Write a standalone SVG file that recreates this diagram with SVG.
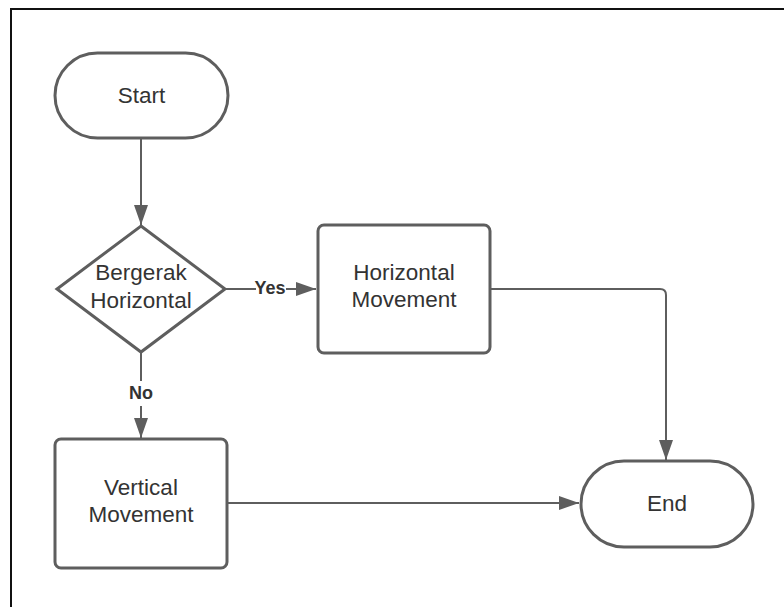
<svg xmlns="http://www.w3.org/2000/svg" width="784" height="607" viewBox="0 0 784 607">
<defs>
<marker id="ah" markerWidth="20" markerHeight="14" refX="20" refY="7" orient="auto" markerUnits="userSpaceOnUse">
<path d="M0,0 L20,7 L0,14 Z" fill="#5e5e5e"/>
</marker>
<style>
.shape{fill:#fff;stroke:#5e5e5e;stroke-width:3}
.conn{fill:none;stroke:#5e5e5e;stroke-width:2}
.t{font-family:"Liberation Sans",Arial,sans-serif;font-size:22.5px;fill:#333;text-anchor:middle;dominant-baseline:central}
.lbl{font-family:"Liberation Sans",Arial,sans-serif;font-size:18px;font-weight:bold;fill:#333;text-anchor:middle;dominant-baseline:central}
</style>
</defs>
<rect width="784" height="607" fill="#fff"/>
<rect x="11" y="9" width="800" height="620" fill="none" stroke="#111" stroke-width="2"/>
<g id="connectors">
<path class="conn" d="M141,138 L141,225" marker-end="url(#ah)"/>
<path class="conn" d="M225,289 L256,289"/>
<path class="conn" d="M286,289 L316,289" marker-end="url(#ah)"/>
<path class="conn" d="M141,352 L141,381"/>
<path class="conn" d="M141,406 L141,438" marker-end="url(#ah)"/>
<path class="conn" d="M490,289 L660,289 Q666,289 666,295 L666,460" marker-end="url(#ah)"/>
<path class="conn" d="M227,503 L579,503" marker-end="url(#ah)"/>
<text class="lbl" x="270" y="288">Yes</text>
<text class="lbl" x="141" y="393">No</text>
</g>
<g id="start">
<rect class="shape" x="55" y="53" width="173" height="85" rx="42.5"/>
<text class="t" x="141.5" y="95">Start</text>
</g>
<g id="decision">
<polygon class="shape" points="141,226 225,289 141,352 57,289"/>
<text class="t" x="141" y="272">Bergerak</text>
<text class="t" x="141" y="300">Horizontal</text>
</g>
<g id="horizontal">
<rect class="shape" x="318" y="225" width="172" height="128" rx="6"/>
<text class="t" x="404" y="272">Horizontal</text>
<text class="t" x="404" y="299">Movement</text>
</g>
<g id="vertical">
<rect class="shape" x="55" y="439" width="172" height="129" rx="6"/>
<text class="t" x="141" y="487">Vertical</text>
<text class="t" x="141" y="514">Movement</text>
</g>
<g id="end">
<rect class="shape" x="581" y="461" width="172" height="86" rx="43"/>
<text class="t" x="667" y="503">End</text>
</g>
</svg>
